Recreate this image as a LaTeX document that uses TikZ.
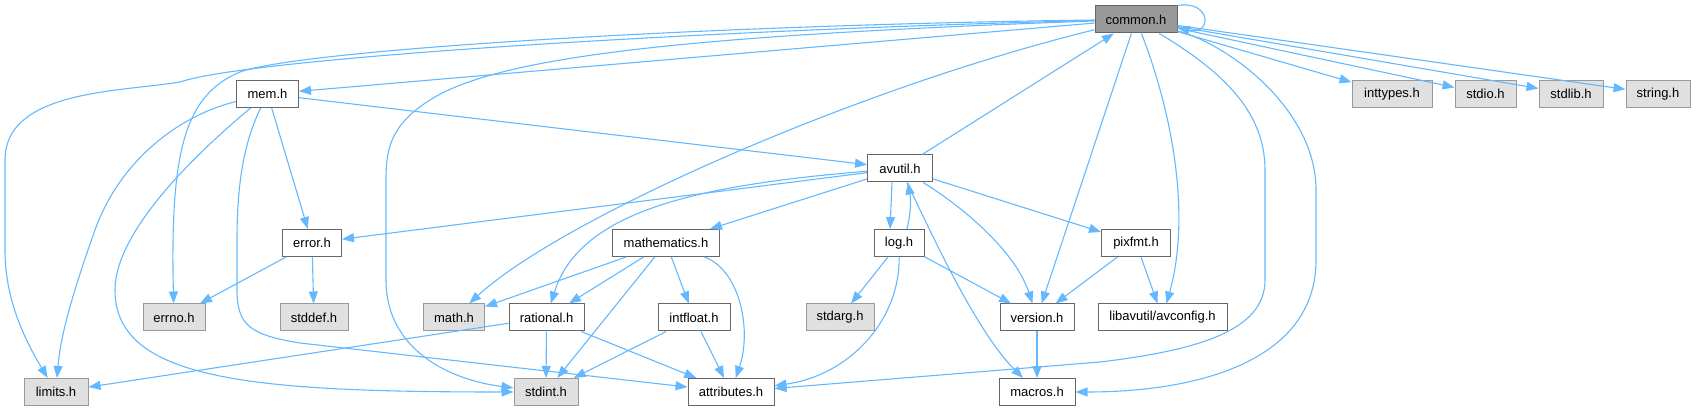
\documentclass[tikz,border=0pt]{standalone}
\usepackage{fontspec}
\setmainfont{Liberation Sans}
\usetikzlibrary{arrows.meta,calc}
\definecolor{edgeblue}{RGB}{99,184,255}
\definecolor{sysfill}{RGB}{224,224,224}
\definecolor{rootfill}{RGB}{153,153,153}
\definecolor{darkborder}{RGB}{102,102,102}
\definecolor{lightborder}{RGB}{153,153,153}
\begin{document}
\begin{tikzpicture}[x=1pt,y=-1pt,
  box/.style={draw=darkborder, line width=1pt, fill=white, minimum height=27pt, inner sep=0pt, font=\fontsize{13}{15}\selectfont, text=black},
  sysbox/.style={box, draw=lightborder, fill=sysfill},
  rootbox/.style={box, draw=darkborder, fill=rootfill},
  edge/.style={draw=edgeblue, line width=1.1pt, -{Triangle[length=12pt,width=9pt]}}]
\useasboundingbox (0,0) rectangle (1696,411);

% nodes
\node[rootbox, minimum width=82pt] (common) at (1136,19.5) {common.h};
\node[box, minimum width=62pt] (mem) at (267.5,94) {mem.h};
\node[box, minimum width=65pt] (avutil) at (900,168.5) {avutil.h};
\node[sysbox, minimum width=80pt] (inttypes) at (1392,94) {inttypes.h};
\node[sysbox, minimum width=61pt] (stdio) at (1485.5,94) {stdio.h};
\node[sysbox, minimum width=64pt] (stdlib) at (1571,94) {stdlib.h};
\node[sysbox, minimum width=64pt] (string) at (1658,94) {string.h};
\node[box, minimum width=59pt] (error) at (312,243) {error.h};
\node[box, minimum width=107pt] (mathematics) at (666,243) {mathematics.h};
\node[box, minimum width=50pt] (log) at (899,243) {log.h};
\node[box, minimum width=69pt] (pixfmt) at (1136,243) {pixfmt.h};
\node[sysbox, minimum width=62pt] (errno) at (174,317.5) {errno.h};
\node[sysbox, minimum width=68pt] (stddef) at (314,317.5) {stddef.h};
\node[sysbox, minimum width=61pt] (math) at (454,317.5) {math.h};
\node[box, minimum width=75pt] (rational) at (546.5,317.5) {rational.h};
\node[box, minimum width=72pt] (intfloat) at (694,317.5) {intfloat.h};
\node[sysbox, minimum width=68pt] (stdarg) at (840,317.5) {stdarg.h};
\node[box, minimum width=74pt] (version) at (1037,317.5) {version.h};
\node[box, minimum width=129pt] (avconfig) at (1162.5,317.5) {libavutil/avconfig.h};
\node[sysbox, minimum width=64pt] (limits) at (56,392) {limits.h};
\node[sysbox, minimum width=64pt] (stdint) at (546,392) {stdint.h};
\node[box, minimum width=86pt] (attributes) at (731,392) {attributes.h};
\node[box, minimum width=76pt] (macros) at (1037,392) {macros.h};

% edges from common.h
\draw[edge] (common.north east) .. controls (1212,0) and (1212,36) .. ([yshift=-8pt]common.east);
\draw[edge] (common) -- (mem);
\draw[edge] (common) .. controls (700,25) and (300,50) .. (240,72) .. controls (185,95) and (170,150) .. (errno);
\draw[edge] (common) .. controls (700,30) and (250,58) .. (180,82) .. controls (120,92) and (5,90) .. (5,160) -- (5,250) .. controls (5,300) and (25,340) .. (limits);
\draw[edge] (common) .. controls (700,35) and (500,55) .. (430,100) .. controls (390,125) and (386,150) .. (386,180) -- (386,280) .. controls (386,350) and (450,380) .. (stdint);
\draw[edge] (common) .. controls (850,90) and (560,220) .. (math);
\draw[edge] (common) -- (version);
\draw[edge] (common) .. controls (1175,120) and (1190,220) .. (avconfig);
\draw[edge] (common) .. controls (1220,70) and (1265,110) .. (1265,170) -- (1265,280) .. controls (1265,330) and (1200,350) .. (1100,362) -- (attributes);
\draw[edge] (common) .. controls (1230,45) and (1316,110) .. (1316,190) -- (1316,260) .. controls (1316,360) and (1200,392) .. (macros);
\draw[edge] (common) -- (inttypes);
\draw[edge] (common) -- (stdio);
\draw[edge] (common) -- (stdlib);
\draw[edge] (common) -- (string);

% edges from mem.h
\draw[edge] (mem) -- (avutil);
\draw[edge] (mem) -- (error);
\draw[edge] (mem) .. controls (180,115) and (120,160) .. (95,230) .. controls (70,300) and (60,340) .. (limits);
\draw[edge] (mem) .. controls (200,150) and (115,230) .. (115,290) .. controls (115,380) and (250,392) .. (stdint);
\draw[edge] (mem) .. controls (245,140) and (237,180) .. (237,240) -- (237,290) .. controls (237,325) and (250,335) .. (300,343) -- (attributes);

% edges from avutil.h
\draw[edge] (avutil) -- (common);
\draw[edge] (avutil) -- (error);
\draw[edge] (avutil) .. controls (700,185) and (580,210) .. (rational);
\draw[edge] (avutil) -- (mathematics);
\draw[edge] ([xshift=-8pt]avutil.south) -- ([xshift=-9pt]log.north);
\draw[edge] (avutil) .. controls (960,205) and (1015,250) .. (version);
\draw[edge] (avutil) .. controls (930,230) and (975,330) .. (macros);
\draw[edge] (avutil) -- (pixfmt);

% edges from log.h
\draw[edge] ([xshift=8pt]log.north) .. controls (911,212) and (911,200) .. ([xshift=8pt]avutil.south);
\draw[edge] (log) -- (stdarg);
\draw[edge] (log) -- (version);
\draw[edge] (log) .. controls (900,320) and (850,375) .. (attributes);

% edges from error.h
\draw[edge] (error) -- (errno);
\draw[edge] (error) -- (stddef);

% edges from mathematics.h
\draw[edge] (mathematics) -- (math);
\draw[edge] (mathematics) -- (rational);
\draw[edge] (mathematics) -- (stdint);
\draw[edge] (mathematics) -- (intfloat);
\draw[edge] (mathematics) .. controls (740,270) and (752,330) .. (attributes);

% edges from rational.h
\draw[edge] (rational) -- (limits);
\draw[edge] (rational) -- (stdint);
\draw[edge] (rational) -- (attributes);

% edges from intfloat.h
\draw[edge] (intfloat) -- (stdint);
\draw[edge] (intfloat) -- (attributes);

% edges from pixfmt.h
\draw[edge] (pixfmt) -- (version);
\draw[edge] (pixfmt) -- (avconfig);

% edges from version.h
\draw[edge] (version) -- (macros);
\end{tikzpicture}
\end{document}
